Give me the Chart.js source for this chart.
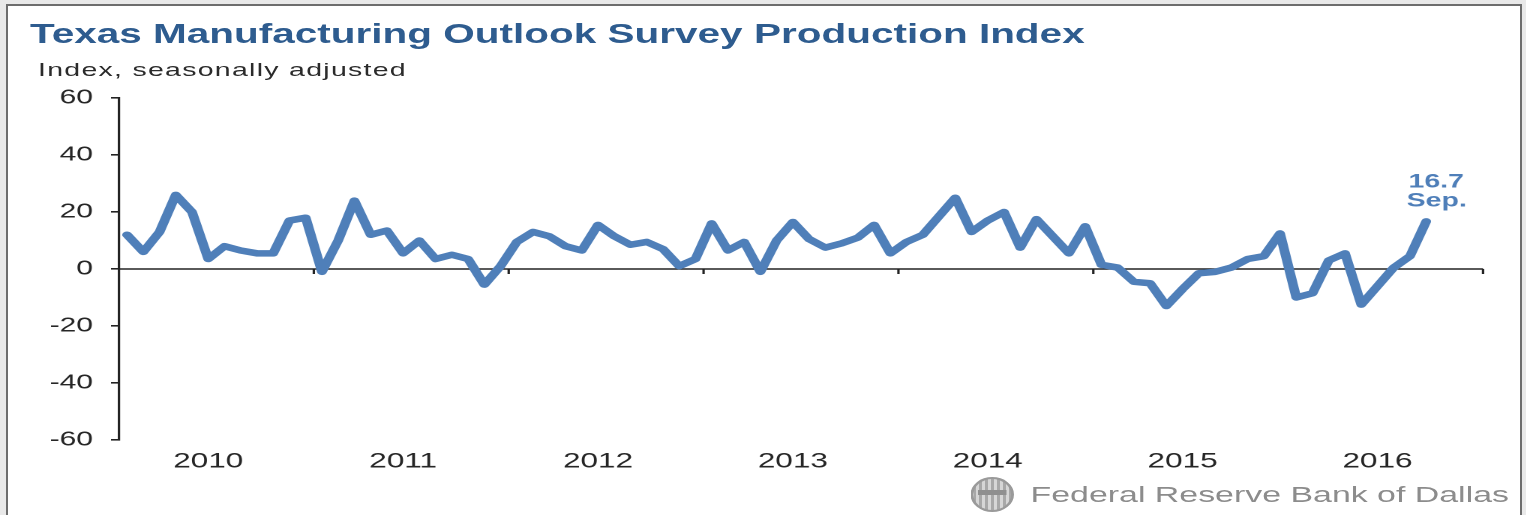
<!DOCTYPE html>
<html>
<head>
<meta charset="utf-8">
<script src="https://cdn.jsdelivr.net/npm/chart.js@4.4.0/dist/chart.umd.min.js"></script>
<style>
  html, body { margin: 0; padding: 0; width: 1526px; height: 515px; overflow: hidden; background: #e9e9e9; }
  #frame { position: absolute; left: 6px; top: 4px; width: 1516px; height: 530px; box-sizing: border-box;
           border: 2px solid #6d6d6d; background: #fff; }
  /* the reference is stretched sideways, so the whole chart is drawn narrow and widened */
  #stretch { position: absolute; left: 0; top: 0; width: 1017.3px; height: 515px;
             transform: scaleX(1.5); transform-origin: 0 0; font-family: "Liberation Sans", Arial, sans-serif; }
  #title { position: absolute; left: 20px; top: 21px; font-size: 27px; line-height: 27px; font-weight: bold;
           color: #2e5c8f; white-space: nowrap; }
  #subtitle { position: absolute; left: 25.3px; top: 59.5px; font-size: 19px; line-height: 19px;
              letter-spacing: 0.85px; color: #2b2b2b; white-space: nowrap; }
  #source { position: absolute; left: 687px; top: 484px; font-size: 22.6px; line-height: 22.6px;
            color: #8c8c8c; white-space: nowrap; }
  #seal { position: absolute; left: 647px; top: 477px; width: 29px; height: 35px; border-radius: 50%;
          box-sizing: border-box; border: 2px solid #9a9a9a;
          background: repeating-linear-gradient(90deg, #a8a8a8 0 2px, #d6d6d6 2px 4px); }
  #seal:after { content: ""; position: absolute; left: 3px; right: 3px; top: 11px; height: 5px; background: #8f8f8f; }
  #box { position: absolute; left: 0; top: 0; width: 1017.3px; height: 515px; }
</style>
</head>
<body>
<div id="frame"></div>
<div id="stretch">
  <div id="title">Texas Manufacturing Outlook Survey Production Index</div>
  <div id="subtitle">Index, seasonally adjusted</div>
  <div id="box"><canvas id="myChart"></canvas></div>
  <div id="seal"></div>
  <div id="source">Federal Reserve Bank of Dallas</div>
</div>
<script>
const years = ['2010', '2011', '2012', '2013', '2014', '2015', '2016']
const monthNames = ['Jan.', 'Feb.', 'Mar.', 'Apr.', 'May', 'Jun.', 'Jul.', 'Aug.', 'Sep.', 'Oct.', 'Nov.', 'Dec.']
const yTicks = [-60, -40, -20, 0, 20, 40, 60]

// production index, Jan 2010 - Sep 2016
const production = [
    12, 6, 13, 26, 20, 3.5, 8, 6.5, 5.5, 5.5, 17, 18,
    -1, 10, 24, 12, 13.5, 5.5, 10, 3.5, 5, 3.5, -5.5, 1,
    9.5, 13, 11.5, 8, 6.5, 15.5, 11.5, 8.5, 9.5, 7, 1, 3.5,
    16, 6.5, 9.5, -1, 10, 16.5, 10.5, 7.5, 9, 11, 15.5, 5.5,
    9.5, 12, 18.5, 25, 13, 17, 20, 7.5, 17.5, 11.5, 5.5, 15,
    1.5, 0.5, -4.5, -5, -13, -7, -1.5, -1, 0.5, 3.5, 4.5, 12.5,
    -10, -8.5, 3, 5.5, -12.5, -6, 0.5, 4.5, 16.7
]

const monthLabels = []
years.forEach(y => monthNames.forEach(m => monthLabels.push(m + ' ' + y)))

const lineColor = '#4f7fb9'
const axisColor = '#232323'

// horizontal axis through zero with year tick marks
const zeroAxis = {
    id: 'zeroAxis',
    beforeDatasetsDraw(chart) {
        const ctx = chart.ctx
        const x = chart.scales.x
        const y0 = chart.scales.y.getPixelForValue(0)
        ctx.save()
        ctx.strokeStyle = axisColor
        ctx.lineWidth = 1.6
        ctx.beginPath()
        ctx.moveTo(chart.chartArea.left, y0)
        ctx.lineTo(chart.chartArea.right, y0)
        for (let k = 1; k <= years.length; k++) {
            const xb = x.getPixelForValue(12 * k - 0.5)
            ctx.moveTo(xb, y0)
            ctx.lineTo(xb, y0 + 5)
        }
        ctx.stroke()
        ctx.restore()
    }
}

// value + month note above the last point
const lastNote = {
    id: 'lastNote',
    afterDatasetsDraw(chart) {
        const ctx = chart.ctx
        const n = production.length - 1
        const pt = chart.getDatasetMeta(0).data[n]
        ctx.save()
        ctx.fillStyle = lineColor
        ctx.font = 'bold 19px "Liberation Sans", Arial, sans-serif'
        ctx.textAlign = 'center'
        ctx.textBaseline = 'alphabetic'
        ctx.fillText(production[n].toFixed(1), pt.x + 6.7, pt.y - 34)
        ctx.fillText(monthNames[n % 12], pt.x + 7, pt.y - 15)
        ctx.restore()
    }
}

new Chart('myChart', {
    type: 'line',
    data: {
        labels: monthLabels,
        datasets: [{
            label: 'Production',
            data: production,
            borderColor: lineColor,
            borderWidth: 6.5,
            borderJoinStyle: 'round',
            borderCapStyle: 'round',
            pointRadius: 0,
            tension: 0,
            fill: false
        }]
    },
    options: {
        responsive: true,
        maintainAspectRatio: false,
        animation: false,
        devicePixelRatio: 2,
        layout: { padding: { left: 0, right: 28.6, top: 98, bottom: 37 } },
        plugins: {
            legend: { display: false },
            title: { display: false },
            tooltip: { enabled: false }
        },
        scales: {
            x: {
                type: 'category',
                offset: true,
                border: { display: false },
                grid: { display: false, drawTicks: false },
                ticks: {
                    autoSkip: false,
                    maxRotation: 0,
                    padding: 9,
                    color: '#262626',
                    font: { family: '"Liberation Sans", Arial, sans-serif', size: 21 },
                    callback: (v, i) => (i % 12 === 5 ? years[Math.floor(i / 12)] : '')
                },
                afterFit: s => { s.height = 38 }
            },
            y: {
                min: yTicks[0],
                max: yTicks[yTicks.length - 1],
                afterBuildTicks: s => { s.ticks = yTicks.map(v => ({ value: v })) },
                border: { display: true, color: axisColor, width: 1.6 },
                grid: { display: true, drawOnChartArea: false, drawTicks: true, tickLength: 5.3, color: axisColor, lineWidth: 1.6 },
                ticks: {
                    padding: 12,
                    color: '#262626',
                    font: { family: '"Liberation Sans", Arial, sans-serif', size: 20 }
                },
                afterFit: s => { s.width = 79.3 }
            }
        }
    },
    plugins: [zeroAxis, lastNote]
})
</script>
</body>
</html>
